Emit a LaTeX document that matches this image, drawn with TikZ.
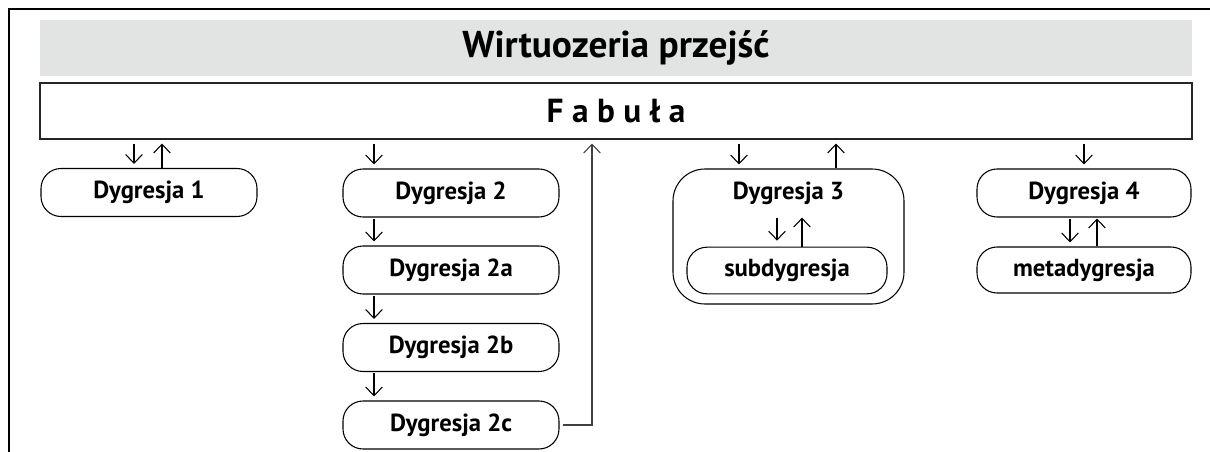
\documentclass[tikz,border=0pt]{standalone}
\usepackage{fontspec}
\setmainfont{PT Sans}
\usetikzlibrary{arrows.meta,calc}
\begin{document}
\begin{tikzpicture}[x=0.75pt,y=-0.75pt,
  lbl/.style={font=\bfseries\fontsize{18.5}{20}\selectfont},
  box/.style={draw=black, line width=0.8pt, rounded corners=15pt, inner sep=0pt,
    minimum width=162pt, minimum height=36pt, lbl},
  arr/.style={line width=0.8pt, -{Straight Barb[length=6.5pt,width=12.5pt,line width=0.8pt]}},
  conn/.style={draw=black!75, line width=1pt, -{Straight Barb[length=6.5pt,width=12.5pt,line width=0.8pt]}}
]
\useasboundingbox (0,0) rectangle (1210,452);
% frame
\draw[line width=1.1pt] (9,452) -- (9,9) -- (1210,9);
% title and fabula
\node[fill={rgb,255:red,226;green,227;blue,227}, minimum width=864pt, minimum height=42pt, inner sep=0pt,
  font=\bfseries\fontsize{28}{30}\selectfont] (title) at (616,48) {Wirtuozeria przejść};
\node[draw=black!85, line width=0.8pt, minimum width=864pt, minimum height=42pt, inner sep=0pt,
  font=\bfseries\fontsize{25}{27}\selectfont] (fab) at (616,111) {F a b u ł a};
% boxes
\node[box] (d1) at (149,192.5) {Dygresja 1};
\node[box] (d2) at (451,193) {Dygresja 2};
\node[box] (d2a) at (451,270) {Dygresja 2a};
\node[box] (d2b) at (451,347.5) {Dygresja 2b};
\node[box] (d2c) at (451,425) {Dygresja 2c};
\node[box, rounded corners=24pt, minimum width=173.25pt, minimum height=101.25pt] (d3) at (788.5,236.5) {};
\node[lbl, inner sep=0pt] (d3t) at (788.5,193) {Dygresja 3};
\node[box, minimum width=150pt, minimum height=35pt] (sub) at (787,270.5) {subdygresja};
\node[box, minimum width=160.5pt] (d4) at (1084,193) {Dygresja 4};
\node[box, minimum width=160.5pt, minimum height=34.5pt] (meta) at (1084,270) {metadygresja};
% arrows Fabula <-> Dygresja 1
\draw[arr] ($(d1.north |- fab.south)+(-15,4)$) -- ($(d1.north)+(-15,-4)$);
\draw[arr] ($(d1.north)+(13,0)$) -- ($(d1.north |- fab.south)+(13,4)$);
% Dygresja 2 chain
\draw[arr] ($(d2.north |- fab.south)+(-77,4)$) -- ($(d2.north)+(-77,-4)$);
\draw[arr] ($(d2.south)+(-77,1)$) -- ($(d2a.north)+(-77,-4)$);
\draw[arr] ($(d2a.south)+(-77,1)$) -- ($(d2b.north)+(-77,-4)$);
\draw[arr] ($(d2b.south)+(-77,1)$) -- ($(d2c.north)+(-77,-4)$);
\draw[conn] ($(d2c.east)+(3,0)$) -| ($(fab.south)+(-24,4)$);
% Dygresja 3
\draw[arr] ($(d3.north |- fab.south)+(-49.5,4)$) -- ($(d3.north)+(-49.5,-4)$);
\draw[arr] ($(d3.north)+(47.5,0)$) -- ($(d3.north |- fab.south)+(47.5,4)$);
\draw[arr] ($(sub.north)+(-10,-29)$) -- ($(sub.north)+(-10,-6)$);
\draw[arr] ($(sub.north)+(15,0)$) -- ($(sub.north)+(15,-29)$);
% Dygresja 4
\draw[arr] ($(d4.north |- fab.south)+(0,4)$) -- ($(d4.north)+(0,-4)$);
\draw[arr] ($(d4.south)+(-14,1)$) -- ($(meta.north)+(-14,-4)$);
\draw[arr] ($(meta.north)+(13,0)$) -- ($(d4.south)+(13,1)$);
\end{tikzpicture}
\end{document}
